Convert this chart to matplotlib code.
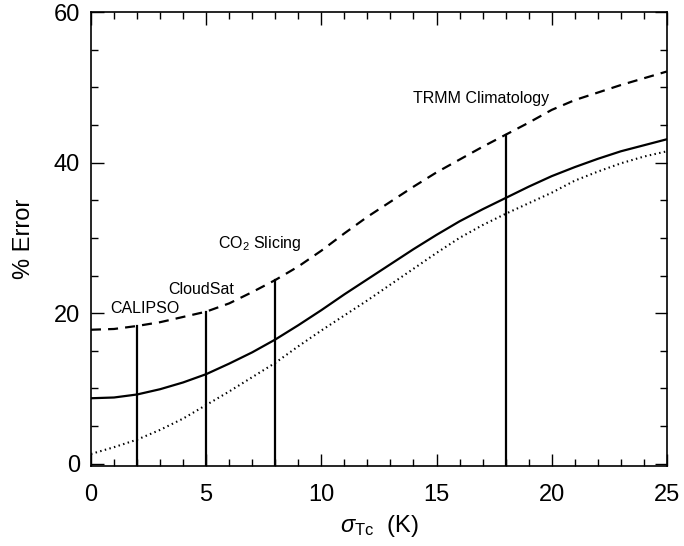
import numpy as np
import matplotlib
matplotlib.use("Agg")
import matplotlib.pyplot as plt
from matplotlib.ticker import MultipleLocator

plt.rcParams['font.family'] = ['Liberation Sans', 'DejaVu Sans']
plt.rcParams['mathtext.fontset'] = 'custom'
plt.rcParams['mathtext.rm'] = 'Liberation Sans'
plt.rcParams['mathtext.it'] = 'Liberation Sans:italic'

# Cloud-top temperature uncertainty (K)
sigma_tc = [0, 1, 2, 3, 4, 5, 6, 7, 8, 9, 10, 11, 12, 13, 14, 15, 16, 17,
            18, 19, 20, 21, 22, 23, 24, 25]

# Percent error curves
err_dashed = [17.8, 17.9, 18.3, 18.8, 19.5, 20.2, 21.3, 22.8, 24.4, 26.2,
              28.3, 30.6, 32.8, 34.8, 36.8, 38.7, 40.4, 42.1, 43.7, 45.3,
              47.0, 48.3, 49.3, 50.3, 51.2, 52.1]
err_solid = [8.7, 8.8, 9.2, 9.9, 10.8, 11.9, 13.3, 14.8, 16.5, 18.4, 20.4,
             22.5, 24.5, 26.5, 28.5, 30.4, 32.2, 33.8, 35.3, 36.8, 38.2,
             39.4, 40.5, 41.5, 42.3, 43.1]
err_dotted = [1.3, 2.2, 3.2, 4.5, 6.0, 7.8, 9.6, 11.5, 13.4, 15.6, 17.7,
              19.7, 21.7, 23.8, 25.9, 28.0, 30.0, 31.7, 33.2, 34.6, 36.0,
              37.6, 38.8, 39.9, 40.8, 41.5]

# Instrument uncertainties marked by vertical lines
instruments = ['CALIPSO', 'CloudSat', 'CO$_2$ Slicing', 'TRMM Climatology']
instrument_sigma = [2, 5, 8, 18]
label_x = [0.85, 3.35, 5.5, 14.0]
label_y = [20.6, 23.2, 29.3, 48.5]

fig = plt.figure(figsize=(6.84, 5.46), dpi=100)
ax = fig.add_axes([0.133, 0.1465, 0.842, 0.8315])

ax.plot(sigma_tc, err_dashed, color='black', lw=1.6, ls=(0, (4.5, 3.2)))
ax.plot(sigma_tc, err_solid, color='black', lw=1.6, ls='-')
ax.plot(sigma_tc, err_dotted, color='black', lw=1.5, ls=(0, (0.7, 1.6)))

ymin = -0.3
for xs in instrument_sigma:
    top = np.interp(xs, sigma_tc, err_dashed)
    ax.plot([xs, xs], [ymin, top], color='black', lw=1.6)

for name, lx, ly in zip(instruments, label_x, label_y):
    ax.text(lx, ly, name, fontsize=11.5, ha='left', va='center')

ax.set_xlim(0, 25)
ax.set_ylim(ymin, 60)
ax.xaxis.set_major_locator(MultipleLocator(5))
ax.xaxis.set_minor_locator(MultipleLocator(1))
ax.yaxis.set_major_locator(MultipleLocator(20))
ax.yaxis.set_minor_locator(MultipleLocator(5))
ax.tick_params(which='both', direction='in', top=True, right=True, width=1.0)
ax.tick_params(which='major', length=9, labelsize=17)
ax.tick_params(which='minor', length=5)
ax.tick_params(axis='x', which='major', pad=13)
ax.tick_params(axis='y', which='major', pad=8)
for sp in ax.spines.values():
    sp.set_linewidth(1.2)

ax.set_xlabel(r'$\sigma_{\rm Tc}$  (K)', fontsize=17, labelpad=5)
ax.set_ylabel('% Error', fontsize=17, labelpad=13)

fig.savefig('out.png', dpi=100)
